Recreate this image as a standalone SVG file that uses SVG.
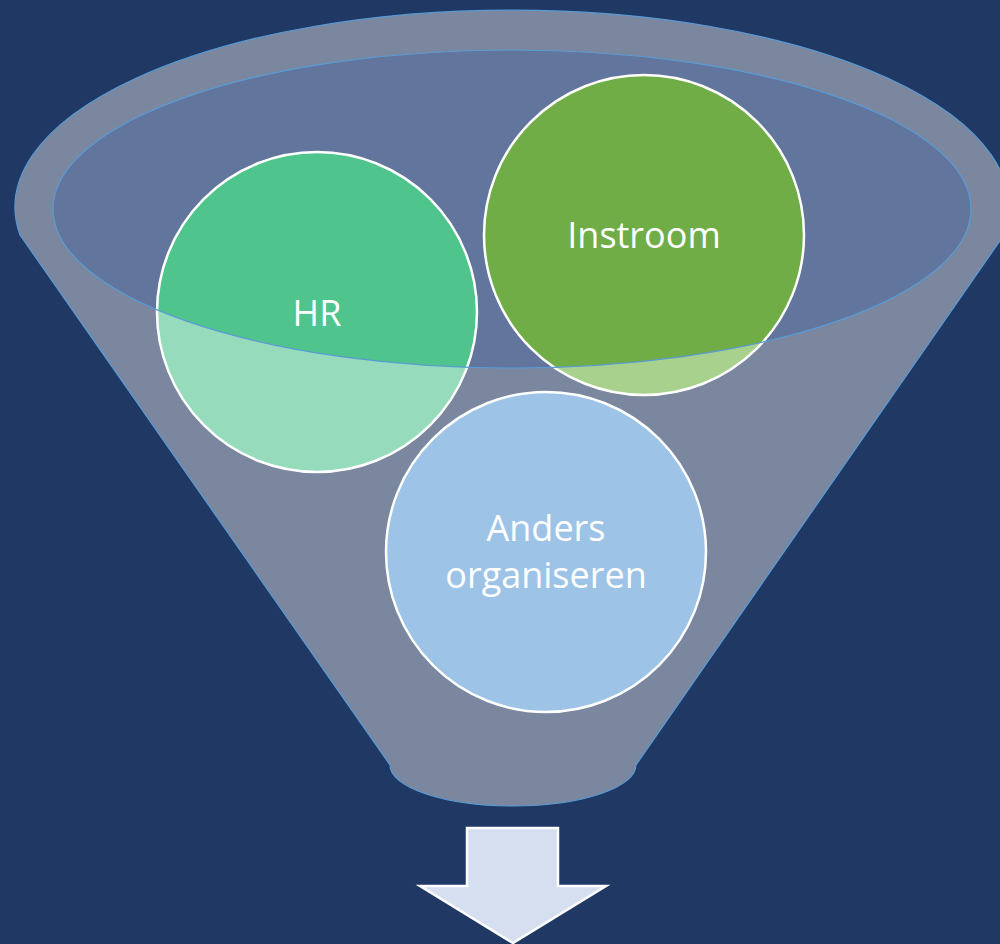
<svg xmlns="http://www.w3.org/2000/svg" width="1000" height="944" viewBox="0 0 1000 944">
<style>
.lbl{font-family:"Open Sans","Liberation Sans",sans-serif;font-size:36px;fill:#FFFFFF;text-anchor:middle}
.ring{fill:none;stroke:#FFFFFF;stroke-width:2.5}
.edge{fill:none;stroke:#5B9BD5;stroke-width:1.2}
</style>
<defs>
<clipPath id="hole"><ellipse cx="512" cy="209" rx="459" ry="159"/></clipPath>
</defs>
<rect width="1000" height="944" fill="#1F3864"/>
<g id="funnel">
<path d="M20,235 A497,197 0 1 1 1004,235 L636,765 A123,41 0 0 1 390,765 Z" fill="#7A879F" stroke="#5B9BD5" stroke-width="1.2"/>
<ellipse cx="512" cy="209" rx="459" ry="159" fill="#62759C"/>
</g>
<g id="hr">
<circle cx="317" cy="312" r="160" fill="#95DBBC"/>
<circle cx="317" cy="312" r="160" fill="#4FC48D" clip-path="url(#hole)"/>
<circle class="ring" cx="317" cy="312" r="160"/>
</g>
<g id="instroom">
<circle cx="644" cy="235" r="160" fill="#A9D18E"/>
<circle cx="644" cy="235" r="160" fill="#70AD47" clip-path="url(#hole)"/>
<circle class="ring" cx="644" cy="235" r="160"/>
</g>
<g id="funnel-rim">
<ellipse class="edge" cx="512" cy="209" rx="459" ry="159"/>
</g>
<g id="anders">
<circle cx="546" cy="552" r="160" fill="#9DC3E6"/>
<circle class="ring" cx="546" cy="552" r="160"/>
</g>
<g id="labels">
<text class="lbl" x="317" y="326">HR</text>
<text class="lbl" x="644" y="248">Instroom</text>
<text class="lbl" x="546" y="541">Anders</text>
<text class="lbl" x="546" y="588">organiseren</text>
</g>
<g id="connectors">
<path d="M467,828 L558,828 L558,886 L606,886 L513,943 L420,886 L467,886 Z" fill="#D6DFF0" stroke="#FFFFFF" stroke-width="2.5"/>
</g>
</svg>
